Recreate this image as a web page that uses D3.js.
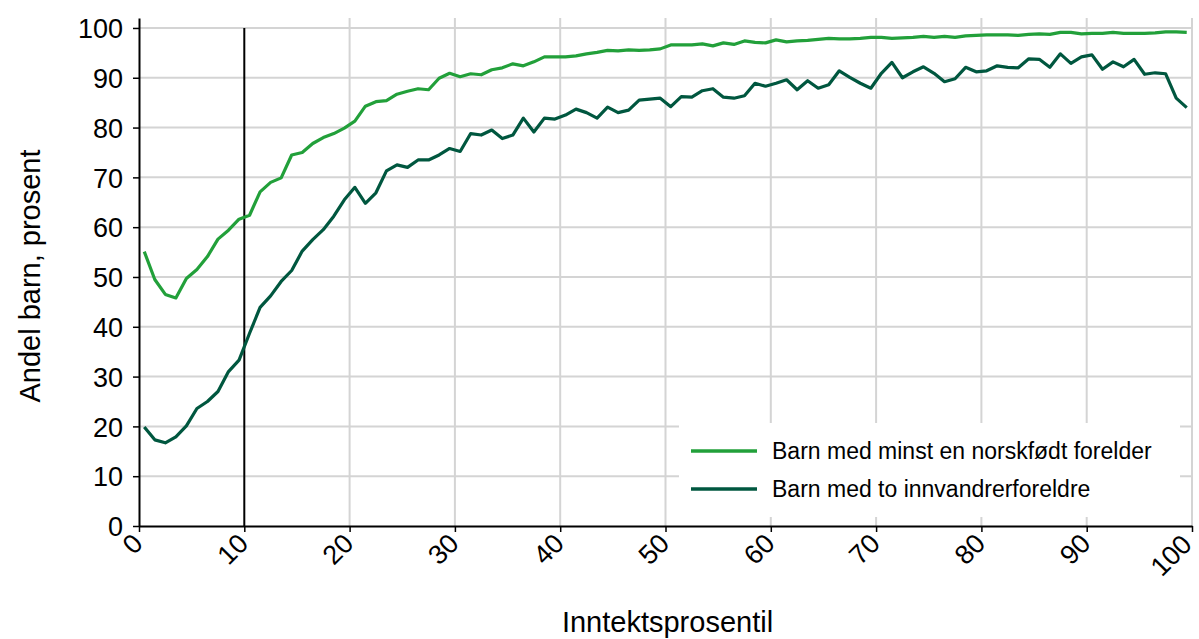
<!DOCTYPE html>
<html lang="no">
<head>
    <meta charset="UTF-8">
    <title>Andel barn etter inntektsprosentil</title>
    <script src="https://cdnjs.cloudflare.com/ajax/libs/d3/7.8.5/d3.min.js"></script>
    <style>
        body { margin: 0; background: #fff; }
        svg { display: block; font-family: "Liberation Sans", Arial, sans-serif; }
    </style>
</head>
<body>
    <svg id="chart" width="1199" height="639"></svg>
    <script>
        // Inntektsprosentil 1..100 (plottes midt i hver prosentil)
        const percentiles = d3.range(1, 101);

        const norskfodt = [
            55.1, 49.5, 46.5, 45.8, 49.7, 51.5, 54.1, 57.6, 59.4, 61.6,
            62.4, 67.1, 69.0, 69.9, 74.5, 75.0, 76.8, 78.0, 78.8, 79.9,
            81.3, 84.3, 85.2, 85.4, 86.7, 87.3, 87.8, 87.6, 89.9, 90.9,
            90.2, 90.8, 90.6, 91.6, 92.0, 92.8, 92.4, 93.2, 94.2, 94.2,
            94.2, 94.4, 94.8, 95.1, 95.5, 95.4, 95.6, 95.5, 95.6, 95.8,
            96.6, 96.6, 96.6, 96.8, 96.4, 97.0, 96.7, 97.4, 97.1, 97.0,
            97.6, 97.2, 97.4, 97.5, 97.7, 97.9, 97.8, 97.8, 97.9, 98.1,
            98.1, 97.9, 98.0, 98.1, 98.3, 98.1, 98.3, 98.1, 98.4, 98.5,
            98.6, 98.6, 98.6, 98.5, 98.7, 98.8, 98.7, 99.1, 99.1, 98.8,
            98.9, 98.9, 99.1, 98.9, 98.9, 98.9, 99.0, 99.2, 99.2, 99.1
        ];

        const innvandrer = [
            19.9, 17.3, 16.7, 17.9, 20.1, 23.6, 25.0, 27.0, 31.0, 33.3,
            38.7, 43.9, 46.2, 49.1, 51.3, 55.2, 57.5, 59.5, 62.2, 65.5,
            68.0, 64.8, 66.9, 71.3, 72.5, 72.0, 73.5, 73.5, 74.5, 75.8,
            75.2, 78.8, 78.5, 79.5, 77.8, 78.5, 81.9, 79.1, 81.9, 81.7,
            82.5, 83.7, 83.0, 81.9, 84.1, 83.0, 83.5, 85.5, 85.7, 85.9,
            84.2, 86.2, 86.1, 87.4, 87.8, 86.1, 85.9, 86.4, 88.9, 88.3,
            88.9, 89.6, 87.6, 89.4, 87.9, 88.6, 91.4, 90.1, 88.9, 87.9,
            90.9, 93.1, 90.0, 91.2, 92.2, 90.9, 89.2, 89.8, 92.1, 91.2,
            91.4, 92.4, 92.1, 92.0, 93.8, 93.7, 92.1, 94.8, 92.9, 94.2,
            94.6, 91.7, 93.2, 92.2, 93.7, 90.7, 91.0, 90.8, 85.9, 84.0
        ];

        const seriesNames = ["Barn med minst en norskfødt forelder", "Barn med to innvandrerforeldre"];
        const seriesColors = ["#22a03a", "#00573f"];
        const xTicks = d3.range(0, 101, 10);
        const yTicks = d3.range(0, 101, 10);
        const markerX = 10;

        const series = [norskfodt, innvandrer].map((vals, i) => ({
            name: seriesNames[i],
            color: seriesColors[i],
            values: vals.map((v, j) => ({ x: percentiles[j] - 0.5, y: v }))
        }));

        const plotLeft = 139, plotRight = 1192, plotTop = 18, plotBottom = 526;
        const svg = d3.select("#chart");

        const x = d3.scaleLinear().domain([0, 100]).range([plotLeft, plotRight]);
        const y = d3.scaleLinear().domain([0, 102]).range([plotBottom, plotTop]);

        // Rutenett
        const grid = svg.append("g").attr("stroke", "#d4d4d4").attr("stroke-width", 2);
        grid.selectAll("line.h")
            .data(yTicks.filter(d => d > 0))
            .join("line")
            .attr("class", "h")
            .attr("x1", plotLeft).attr("x2", plotRight)
            .attr("y1", d => y(d)).attr("y2", d => y(d));
        grid.selectAll("line.v")
            .data(xTicks.filter(d => d > 0 && d !== markerX))
            .join("line")
            .attr("class", "v")
            .attr("x1", d => x(d)).attr("x2", d => x(d))
            .attr("y1", plotTop).attr("y2", plotBottom);

        // Tegnforklaring-bakgrunn dekker rutenettet
        const legendBox = { x0: 679, x1: 1180, y0: 423, y1: 517 };
        svg.append("rect")
            .attr("x", legendBox.x0).attr("y", legendBox.y0)
            .attr("width", legendBox.x1 - legendBox.x0)
            .attr("height", legendBox.y1 - legendBox.y0)
            .attr("fill", "#fff");

        // Loddrett linje ved 10. prosentil
        svg.append("line")
            .attr("x1", x(markerX)).attr("x2", x(markerX))
            .attr("y1", y(100)).attr("y2", plotBottom)
            .attr("stroke", "#000").attr("stroke-width", 2);

        // Linjer
        const line = d3.line().x(d => x(d.x)).y(d => y(d.y));
        svg.append("g")
            .selectAll("path")
            .data(series)
            .join("path")
            .attr("fill", "none")
            .attr("stroke", d => d.color)
            .attr("stroke-width", 3.2)
            .attr("stroke-linejoin", "round")
            .attr("d", d => line(d.values));

        // Akser
        const yAxis = svg.append("g")
            .attr("transform", `translate(${plotLeft},0)`)
            .call(d3.axisLeft(y).tickValues(yTicks).tickSize(6).tickPadding(10).tickSizeOuter(0));
        const xAxis = svg.append("g")
            .attr("transform", `translate(0,${plotBottom})`)
            .call(d3.axisBottom(x).tickValues(xTicks).tickSize(6).tickSizeOuter(0));

        [xAxis, yAxis].forEach(a => {
            a.select(".domain").attr("stroke", "#000").attr("stroke-width", 2);
            a.selectAll(".tick line").attr("stroke", "#000").attr("stroke-width", 1.5);
            a.selectAll("text")
                .attr("fill", "#000")
                .attr("font-family", "Liberation Sans, Arial, sans-serif")
                .attr("font-size", 27);
        });
        yAxis.selectAll("text").attr("dy", "0.36em");
        // siste etikett flyttes litt inn så den ikke kuttes i kanten
        xAxis.selectAll("text")
            .attr("text-anchor", "end")
            .attr("y", 0).attr("dy", 0)
            .attr("transform", d => d === 100 ? "translate(1,20) rotate(-45)" : "translate(5,19) rotate(-45)");

        // Aksetitler
        svg.append("text")
            .attr("transform", `translate(40,${(plotTop + plotBottom) / 2 + 4}) rotate(-90)`)
            .attr("text-anchor", "middle")
            .attr("font-size", 29)
            .text("Andel barn, prosent");

        svg.append("text")
            .attr("x", (plotLeft + plotRight) / 2 + 2)
            .attr("y", 632)
            .attr("text-anchor", "middle")
            .attr("font-size", 29)
            .text("Inntektsprosentil");

        // Tegnforklaring
        const legend = svg.append("g");
        series.forEach((s, i) => {
            const ly = 451 + i * 38;
            legend.append("line")
                .attr("x1", 691).attr("x2", 757)
                .attr("y1", ly).attr("y2", ly)
                .attr("stroke", s.color).attr("stroke-width", 3.5);
            legend.append("text")
                .attr("x", 772).attr("y", ly)
                .attr("dy", "0.36em")
                .attr("font-size", 23)
                .text(s.name);
        });
    </script>
</body>
</html>
